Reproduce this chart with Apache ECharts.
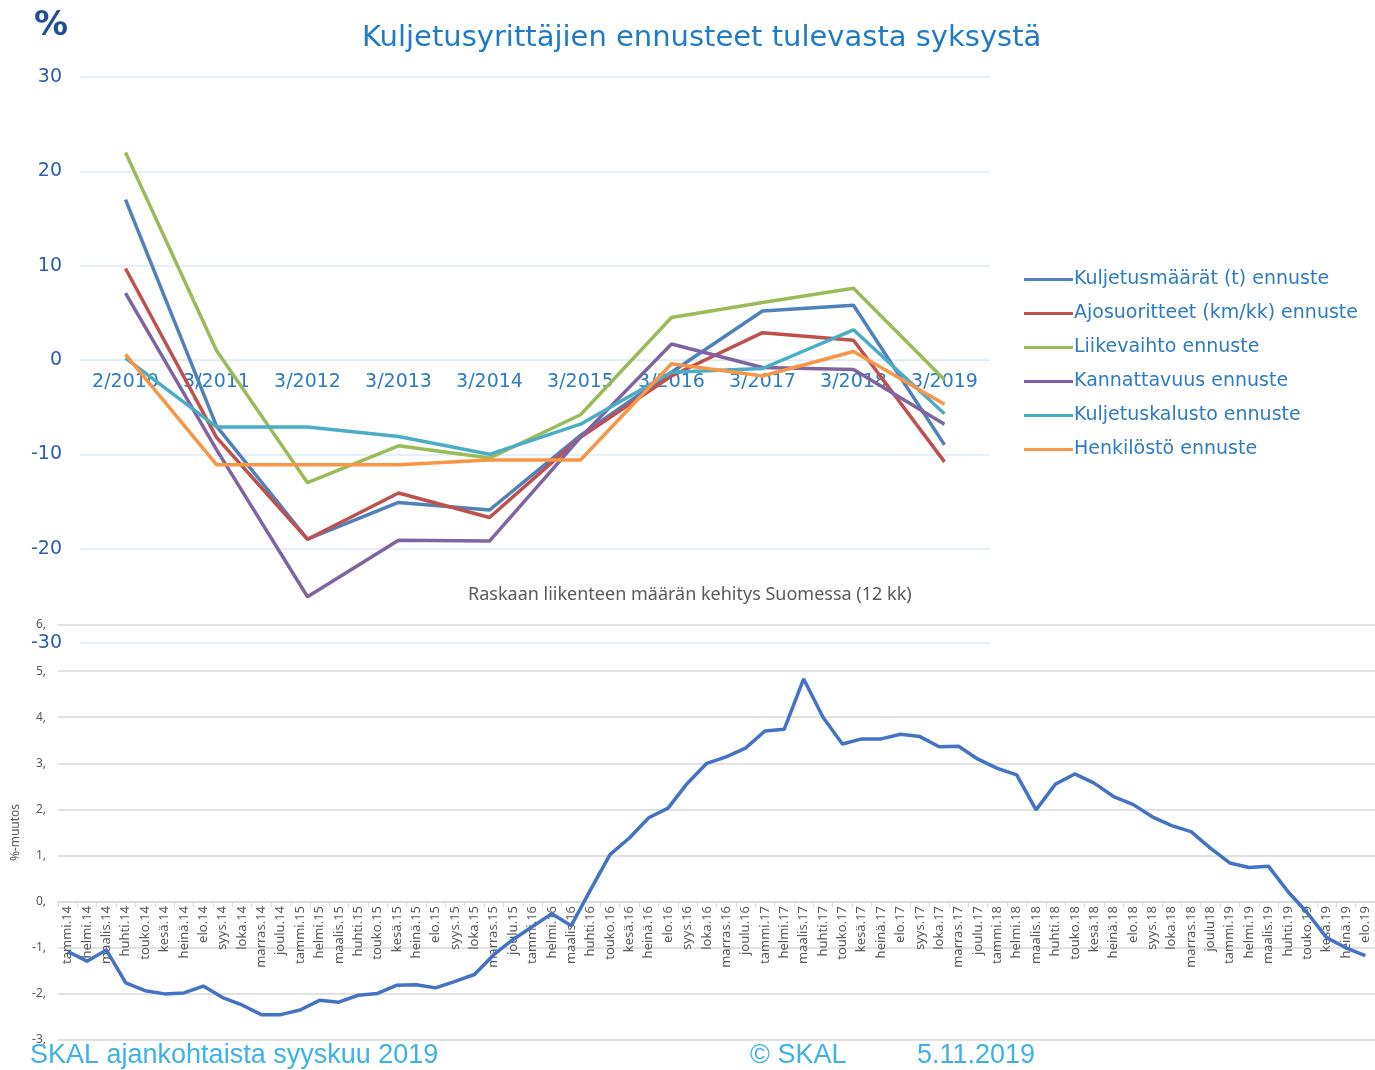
<!DOCTYPE html>
<html lang="fi">
<head>
<meta charset="UTF-8">
<title>Kuljetusyrittäjien ennusteet tulevasta syksystä</title>
<script src="https://cdn.jsdelivr.net/npm/echarts@6/dist/echarts.min.js"></script>
<style>
html, body { margin: 0; padding: 0; background: #fff; }
#chart { width: 1375px; height: 1070px; }
</style>
</head>
<body>
<div id="chart"></div>
<script>
// ennusteet (ylempi kuva)
const periods = ['2/2010', '3/2011', '3/2012', '3/2013', '3/2014', '3/2015', '3/2016', '3/2017', '3/2018', '3/2019'];
const kuljetusmaarat = [17, -7, -19, -15.1, -15.9, -8, -1.3, 5.2, 5.8, -9];
const ajosuoritteet = [9.7, -8.2, -19, -14.1, -16.7, -8.2, -1.7, 2.9, 2.1, -10.8];
const liikevaihto = [22, 1, -13, -9.1, -10.4, -5.8, 4.5, 6.1, 7.6, -2.1];
const kannattavuus = [7.1, -9.5, -25.1, -19.1, -19.2, -8.2, 1.7, -0.8, -1, -6.8];
const kuljetuskalusto = [0.2, -7.1, -7.1, -8.1, -10, -6.8, -1.3, -0.9, 3.2, -5.7];
const henkilosto = [0.6, -11.1, -11.1, -11.1, -10.6, -10.6, -0.4, -1.7, 0.9, -4.7];

// raskaan liikenteen määrä (alempi kuva)
const months = [
  'tammi.14', 'helmi.14', 'maalis.14', 'huhti.14', 'touko.14', 'kesä.14', 'heinä.14', 'elo.14', 'syys.14', 'loka.14', 'marras.14', 'joulu.14',
  'tammi.15', 'helmi.15', 'maalis.15', 'huhti.15', 'touko.15', 'kesä.15', 'heinä.15', 'elo.15', 'syys.15', 'loka.15', 'marras.15', 'joulu.15',
  'tammi.16', 'helmi.16', 'maalis.16', 'huhti.16', 'touko.16', 'kesä.16', 'heinä.16', 'elo.16', 'syys.16', 'loka.16', 'marras.16', 'joulu.16',
  'tammi.17', 'helmi.17', 'maalis.17', 'huhti.17', 'touko.17', 'kesä.17', 'heinä.17', 'elo.17', 'syys.17', 'loka.17', 'marras.17', 'joulu.17',
  'tammi.18', 'helmi.18', 'maalis.18', 'huhti.18', 'touko.18', 'kesä.18', 'heinä.18', 'elo.18', 'syys.18', 'loka.18', 'marras.18', 'joulu18',
  'tammi.19', 'helmi.19', 'maalis.19', 'huhti.19', 'touko.19', 'kesä.19', 'heinä.19', 'elo.19'
];
const muutos = [
  -1.08, -1.29, -1.05, -1.76, -1.93, -2.0, -1.98, -1.83, -2.08, -2.24, -2.45, -2.45,
  -2.35, -2.14, -2.18, -2.03, -1.99, -1.81, -1.80, -1.87, -1.73, -1.58, -1.15, -0.82,
  -0.54, -0.26, -0.52, 0.26, 1.02, 1.38, 1.82, 2.03, 2.57, 3.0, 3.14, 3.33,
  3.70, 3.74, 4.83, 4.0, 3.42, 3.53, 3.53, 3.63, 3.58, 3.36, 3.37, 3.09,
  2.89, 2.75, 1.99, 2.55, 2.77, 2.57, 2.28, 2.11, 1.84, 1.65, 1.52, 1.16,
  0.84, 0.74, 0.77, 0.22, -0.24, -0.78, -1.0, -1.17
];

const topFont = 'DejaVu Sans, Liberation Sans, sans-serif';
const lowFont = 'Noto Sans, sans-serif';
const footFont = 'Liberation Sans, Arial, sans-serif';
const blueText = '#2E7BC4';

function topLine(name, data, color) {
  return {
    name: name, type: 'line', data: data, xAxisIndex: 0, yAxisIndex: 0,
    symbol: 'none', lineStyle: { color: color, width: 3.5 }, itemStyle: { color: color },
    z: 3
  };
}

const chart = echarts.init(document.getElementById('chart'));

const option = {
  animation: false,
  backgroundColor: '#ffffff',
  title: [{
    text: 'Kuljetusyrittäjien ennusteet tulevasta syksystä',
    left: 357, top: 19,
    textStyle: { color: '#1F7BC6', fontSize: 29, fontWeight: 'normal', fontFamily: topFont }
  }, {
    text: 'Raskaan liikenteen määrän kehitys Suomessa (12 kk)',
    left: 463, top: 581,
    textStyle: { color: '#595959', fontSize: 18, fontWeight: 'normal', fontFamily: lowFont }
  }],
  legend: {
    orient: 'vertical', left: 1019, top: 265, itemGap: 15,
    icon: 'rect', itemWidth: 49, itemHeight: 3,
    textStyle: { color: blueText, fontSize: 19, fontFamily: topFont, padding: [0, 0, 0, -4] },
    data: ['Kuljetusmäärät (t) ennuste', 'Ajosuoritteet (km/kk) ennuste', 'Liikevaihto ennuste',
      'Kannattavuus ennuste', 'Kuljetuskalusto ennuste', 'Henkilöstö ennuste']
  },
  grid: [
    { left: 80, top: 77, width: 910, height: 566, outerBoundsMode: 'none' },
    { left: 58, top: 625, right: 0, height: 415, outerBoundsMode: 'none' }
  ],
  xAxis: [{
    type: 'category', gridIndex: 0, data: periods, boundaryGap: true,
    position: 'bottom', offset: -283,
    axisLine: { show: true, onZero: false, lineStyle: { color: '#DDEBF7' } },
    axisTick: { show: false },
    axisLabel: { color: blueText, fontSize: 19, fontFamily: topFont, margin: 13, interval: 0 },
    z: 2
  }, {
    type: 'category', gridIndex: 1, data: months, boundaryGap: true,
    position: 'bottom', offset: -138,
    axisLine: { show: true, onZero: false, lineStyle: { color: '#D9D9D9', width: 1.5 } },
    axisTick: { show: true, length: 5, lineStyle: { color: '#D9D9D9' } },
    axisLabel: { color: '#595959', fontSize: 13, fontFamily: lowFont, rotate: 90, interval: 0, margin: 4 }
  }],
  yAxis: [{
    type: 'value', gridIndex: 0, min: -30, max: 30, interval: 10,
    axisLine: { show: false }, axisTick: { show: false },
    axisLabel: { color: '#2F5DA8', fontSize: 19, fontFamily: topFont, margin: 18 },
    splitLine: { lineStyle: { color: '#DDEBF7', width: 1.5 } }
  }, {
    type: 'value', gridIndex: 1, min: -3, max: 6, interval: 1,
    name: '%-muutos', nameLocation: 'middle', nameGap: 31, nameRotate: 90,
    nameTextStyle: { color: '#595959', fontSize: 12, fontFamily: lowFont },
    axisLine: { show: false }, axisTick: { show: false },
    axisLabel: { color: '#595959', fontSize: 12, fontFamily: lowFont, margin: 12, formatter: v => v + ',' },
    splitLine: { lineStyle: { color: '#D9D9D9', width: 1.5 } }
  }],
  series: [
    topLine('Kuljetusmäärät (t) ennuste', kuljetusmaarat, '#4F81BD'),
    topLine('Ajosuoritteet (km/kk) ennuste', ajosuoritteet, '#C0504D'),
    topLine('Liikevaihto ennuste', liikevaihto, '#9BBB59'),
    topLine('Kannattavuus ennuste', kannattavuus, '#8064A2'),
    topLine('Kuljetuskalusto ennuste', kuljetuskalusto, '#4BACC6'),
    topLine('Henkilöstö ennuste', henkilosto, '#F79646'),
    {
      name: 'Raskas liikenne', type: 'line', data: muutos, xAxisIndex: 1, yAxisIndex: 1,
      symbol: 'none', lineStyle: { color: '#4472C4', width: 3.5 }, itemStyle: { color: '#4472C4' }
    }
  ],
  graphic: [{
    type: 'text', left: 34, top: 9,
    style: { text: '%', fill: '#1F4E9A', fontSize: 34, fontWeight: 'bold', fontFamily: topFont }
  }, {
    type: 'text', left: 30, top: 1042,
    style: { text: 'SKAL ajankohtaista syyskuu 2019', fill: '#3DB1E8', fontSize: 27, fontFamily: footFont }
  }, {
    type: 'text', left: 750, top: 1042,
    style: { text: '© SKAL', fill: '#3DB1E8', fontSize: 27, fontFamily: footFont }
  }, {
    type: 'text', left: 917, top: 1042,
    style: { text: '5.11.2019', fill: '#3DB1E8', fontSize: 27, fontFamily: footFont }
  }]
};

chart.setOption(option);
</script>
</body>
</html>
